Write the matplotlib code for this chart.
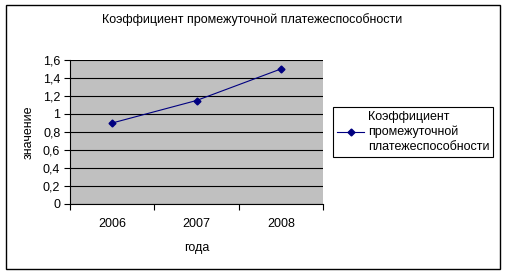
import numpy as np
import matplotlib.pyplot as plt
from matplotlib.patches import Rectangle

years = ['2006', '2007', '2008']
values = [0.9, 1.15, 1.5]
series_name = 'Коэффициент\nпромежуточной\nплатежеспособности'
title = 'Коэффициент промежуточной платежеспособности'

plt.rcParams['font.family'] = ['Liberation Sans', 'DejaVu Sans']
plt.rcParams['font.size'] = 9

W, H = 507, 275
fig = plt.figure(figsize=(W / 100, H / 100), dpi=100)

# outer chart frame
fig.patches.append(Rectangle((6 / W, 1 - 269 / H), (500 - 6) / W, (269 - 5) / H,
                             transform=fig.transFigure, fill=False, lw=1, ec='black'))

ax = fig.add_axes([70 / W, 1 - 204 / H, (323 - 70) / W, (204 - 60) / H])
ax.set_facecolor('#c0c0c0')
x = np.arange(len(years))
line, = ax.plot(x, values, color='#000080', lw=0.8, marker='D', ms=3.5)

ax.set_xlim(-0.5, 2.5)
ax.set_ylim(0, 1.6)
yt = np.arange(0, 1.61, 0.2)
ax.set_yticks(yt)
ax.set_yticklabels([('%g' % v).replace('.', ',') for v in yt])
ax.set_xticks([-0.5, 0.5, 1.5, 2.5])
ax.set_xticklabels([])
ax.set_xticks(x, minor=True)
ax.set_xticklabels(years, minor=True)
ax.tick_params(axis='x', which='minor', length=0, pad=10)
ax.tick_params(axis='x', which='major', length=4, direction='out')
ax.tick_params(axis='y', length=4, direction='out', pad=3)
ax.grid(axis='y', color='black', lw=0.8)
ax.set_axisbelow(True)
for s in ['top', 'right']:
    ax.spines[s].set_visible(False)
for s in ['left', 'bottom']:
    ax.spines[s].set_linewidth(0.8)

ax.set_xlabel('года', labelpad=9)
ax.set_ylabel('значение', labelpad=6)
fig.text(252 / W, 1 - 20 / H, title, ha='center', va='center')

leg = fig.legend([line], [series_name], loc='upper left',
                 bbox_to_anchor=(333 / W, 1 - 107 / H), fancybox=False,
                 edgecolor='black', framealpha=1, handlelength=2.2,
                 handletextpad=0.3, borderpad=0.3, borderaxespad=0)
leg.get_frame().set_linewidth(0.8)
for t in leg.get_texts():
    t.set_linespacing(1.3)

fig.savefig('out.png', dpi=100)
